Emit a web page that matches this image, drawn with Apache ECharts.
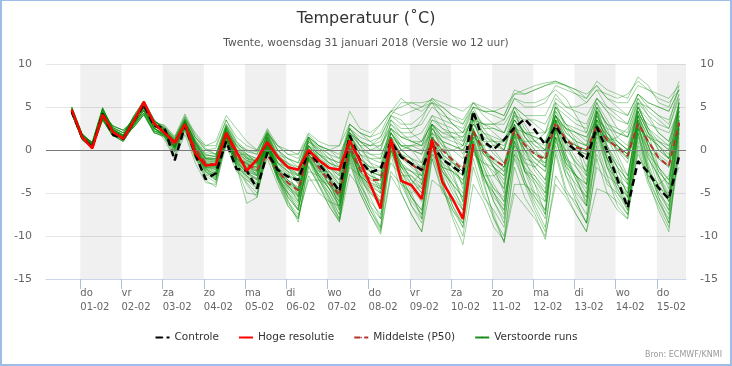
<!DOCTYPE html>
<html><head><meta charset="utf-8">
<script src="https://cdn.jsdelivr.net/npm/echarts@6/dist/echarts.min.js"></script>
<style>
html,body{margin:0;padding:0;background:#fff}
#c{position:absolute;left:0;top:0;width:732px;height:366px}
#b{position:absolute;left:0;top:0;width:732px;height:366px;box-sizing:border-box;border:2px solid #9dbde9;border-top-width:1px;pointer-events:none}
</style></head><body><div id="c"></div><div id="b"></div>
<script>
// hours since 01-02-2018 00:00 (local time), one value every 6 hours
const times = [-5,1,7,13,19,25,31,37,43,49,55,61,67,73,79,85,91,97,103,109,115,121,127,133,139,145,151,157,163,169,175,181,187,193,199,205,211,217,223,229,235,241,247,253,259,265,271,277,283,289,295,301,307,313,319,325,331,337,343,349];
const tickHours = [0,24,48,72,96,120,144,168,192,216,240,264,288,312,336];
const dayNames = ['do','vr','za','zo','ma','di','wo','do','vr','za','zo','ma','di','wo','do'];
const dayDates = ['01-02','02-02','03-02','04-02','05-02','06-02','07-02','08-02','09-02','10-02','11-02','12-02','13-02','14-02','15-02'];
const yTicks = [-15,-10,-5,0,5,10];

const controle = [4.5,1.5,0.3,4.2,1.8,1.3,3.3,5.3,2.8,2.6,-1.2,2.8,-0.5,-3.4,-2.7,1.0,-2.2,-2.4,-4.5,-0.3,-2.3,-3.1,-3.5,-0.1,-1.6,-3.1,-4.8,1.7,-1.2,-2.6,-2.2,1.0,-0.8,-1.6,-2.3,0.7,-1.1,-1.9,-2.8,4.5,1.0,0.1,1.2,2.6,3.6,2.3,0.6,2.8,0.9,-0.1,-1.1,2.7,-0.1,-3.4,-6.7,-1.3,-2.6,-4.4,-5.7,-0.7];
const hogeResolutie = [4.7,1.5,0.2,4.1,2.1,1.3,3.3,5.6,3.1,2.0,0.9,3.0,-0.4,-1.8,-1.7,2.0,-0.2,-2.4,-1.1,0.9,-0.8,-2.0,-2.3,0.0,-1.2,-2.1,-2.3,1.1,-1.3,-4.0,-6.8,1.3,-3.6,-4.1,-5.7,1.2,-3.7,-5.7,-8.0,0.7];
const middelste = [4.6,1.6,0.4,4.1,2.0,1.4,3.3,5.1,2.9,2.2,0.5,3.0,0.2,-1.5,-1.7,2.0,-0.9,-1.7,-2.3,-0.6,-2.4,-3.8,-4.7,-0.3,-2.0,-3.6,-5.3,0.4,-2.3,-3.5,-3.5,1.1,-0.7,-1.7,-2.4,1.3,0.0,-1.2,-2.3,2.2,-0.1,-1.1,-1.9,2.3,0.6,-0.5,-1.1,3.2,1.2,0.3,-0.1,2.8,1.2,0.3,-0.7,3.1,1.0,-0.9,-1.9,3.2];

const run01 = [4.2,1.3,0.3,3.8,1.9,1.2,3.0,4.6,2.5,1.8,0.2,2.8,-0.2,-2.5,-3.2,1.5,-1.5,-3.5,-4.5,0.2,-3.0,-5.5,-7.0,-1.0,-3.0,-5.5,-7.5,-0.5,-4.0,-6.5,-8.0,0.5,-3.5,-6.0,-7.5,1.0,-3.0,-6.5,-8.5,1.5,-3.0,-6.0,-8.0,2.0,-2.5,-5.5,-7.5,3.0,-1.5,-4.5,-6.5,3.5,-1.0,-4.0,-6.0,4.0,-0.5,-4.5,-7.0,3.5];
const run02 = [4.8,1.8,0.7,4.4,2.4,1.7,3.5,5.2,3.1,2.5,1.2,3.5,1.0,-0.5,-0.8,2.8,0.5,-0.5,-1.0,1.8,-0.8,-1.5,-2.0,1.2,0.0,-1.0,-2.5,2.0,0.5,0.5,1.0,3.5,2.5,2.5,3.0,5.0,4.0,3.5,3.0,5.5,4.5,4.0,3.5,6.0,5.0,5.0,5.5,7.5,7.0,6.5,6.0,7.5,6.0,5.0,4.0,6.5,5.5,5.0,4.5,7.0];
const run03 = [4.5,1.5,0.4,4.0,2.1,1.4,3.2,5.0,2.8,2.0,0.5,3.1,0.0,-1.8,-2.0,1.8,-1.0,-2.0,-2.5,0.8,-2.5,-4.0,-5.0,-0.5,-2.0,-3.5,-5.5,0.5,-2.0,-3.5,-4.0,1.0,-1.0,-2.0,-3.0,1.5,-0.5,-1.5,-2.5,2.5,0.0,-1.0,-2.0,2.5,0.5,-0.5,-1.5,3.0,1.0,0.0,-0.5,3.0,1.0,0.5,-1.0,3.5,1.0,-1.0,-2.0,3.0];
const run04 = [4.3,1.2,0.2,3.5,1.6,1.5,2.6,4.1,2.0,1.5,-0.5,2.5,-0.8,-3.0,-3.8,1.2,-2.0,-5.0,-5.2,0.0,-3.5,-6.5,-8.0,-2.0,-4.0,-6.0,-8.2,-1.5,-5.0,-7.5,-9.5,-2.5,-4.0,-5.0,-4.0,0.0,-1.0,-2.0,-3.0,1.5,0.5,0.5,1.0,3.5,2.0,1.5,1.0,4.5,3.0,2.0,1.0,5.0,3.0,1.0,0.0,4.5,2.0,0.5,-1.0,4.0];
const run05 = [5.0,1.9,0.8,4.7,2.6,2.0,3.7,5.4,3.3,2.8,1.4,4.0,1.5,0.0,0.2,3.5,1.0,0.0,-0.5,2.3,0.0,-1.0,-1.5,1.5,-0.5,-2.0,-3.0,1.0,-1.0,-2.0,-2.5,2.0,0.0,0.5,1.0,4.0,2.5,1.5,0.5,4.5,2.0,1.0,0.0,4.0,2.0,0.5,-0.5,4.0,1.5,0.5,0.0,4.5,2.0,1.0,0.0,5.0,2.5,1.5,0.5,5.5];
const run06 = [4.4,1.6,0.5,3.6,1.7,1.0,2.8,4.3,2.2,1.7,0.4,2.9,0.2,-1.5,-1.8,2.0,-0.8,-1.5,-2.0,1.2,-2.0,-3.5,-4.5,0.0,-1.5,-3.0,-5.0,1.0,-2.5,-4.5,-6.0,0.5,-3.0,-5.5,-7.5,-0.5,-4.0,-7.0,-9.0,-1.0,-5.0,-8.0,-10.0,-2.0,-5.5,-7.5,-10.4,-3.0,-5.0,-6.0,-8.5,-2.0,-3.5,-5.5,-7.5,1.0,-3.0,-6.0,-8.0,1.5];
const run07 = [4.8,1.8,0.7,4.4,2.4,1.7,3.5,5.2,3.1,2.2,1.0,3.2,0.8,-1.0,-1.2,2.5,0.0,-1.0,-1.5,1.5,-1.5,-2.5,-3.5,0.5,-1.0,-2.0,-3.5,1.5,-0.5,-1.0,-1.5,2.0,0.5,0.0,-0.5,2.5,1.0,0.5,0.0,3.0,1.5,1.0,0.5,3.5,2.0,1.5,1.0,4.0,2.5,2.0,1.5,4.5,3.0,2.5,1.5,5.0,3.5,2.0,1.0,4.5];
const run08 = [4.2,1.3,0.3,3.8,1.9,1.2,3.0,4.6,2.5,1.9,0.3,2.7,-0.3,-2.2,-2.8,1.6,-1.2,-2.8,-3.5,0.5,-3.0,-5.0,-6.5,-1.0,-3.0,-5.0,-7.0,-0.5,-3.5,-5.0,-6.0,0.0,-3.0,-5.5,-7.0,0.0,-4.0,-8.0,-11.0,-4.0,-6.0,-9.0,-10.5,-4.0,-4.0,-5.0,-6.0,1.0,-2.0,-3.0,-4.0,2.5,-1.0,-4.0,-5.5,3.0,-1.5,-5.0,-6.5,2.5];
const run09 = [4.6,1.7,0.9,4.9,2.3,1.6,3.9,5.7,3.5,2.4,0.8,3.3,0.6,-1.2,-1.4,2.3,-0.2,-1.2,-1.6,1.6,-1.0,-2.0,-3.0,0.8,-0.5,-1.5,-2.0,2.5,1.0,0.0,0.5,3.0,2.0,2.0,3.5,6.0,5.0,4.0,3.5,5.5,4.0,3.0,2.0,5.0,3.0,1.0,0.0,4.0,1.0,-2.0,-4.0,2.0,-1.0,-3.5,-5.5,2.5,-1.0,-3.0,-5.0,3.0];
const run10 = [4.5,1.5,0.4,4.0,2.1,1.4,3.2,5.0,2.8,2.0,0.6,3.0,0.3,-2.0,-2.5,1.7,-1.3,-2.5,-3.0,0.6,-2.8,-4.5,-5.5,-0.8,-2.5,-4.5,-6.5,0.0,-3.0,-4.5,-5.5,0.8,-2.0,-3.0,-4.5,1.2,-1.5,-3.5,-5.0,1.8,-1.0,-3.0,-4.5,2.5,-0.5,-2.0,-3.5,3.5,0.0,-1.5,-3.0,3.0,0.0,-2.0,-3.5,3.5,0.5,-2.5,-4.0,3.0];
const run11 = [5.0,1.9,0.8,4.7,2.6,2.0,3.7,5.4,3.3,2.6,1.1,3.6,1.2,-0.3,-0.5,3.0,0.8,-0.2,-0.5,2.2,0.0,-1.0,-1.5,1.8,0.5,0.0,0.5,3.0,2.0,1.5,2.0,4.5,4.0,4.5,5.0,6.0,5.5,5.0,4.5,5.5,5.0,4.5,4.0,7.0,6.5,7.0,7.5,8.0,7.5,7.0,6.0,8.0,7.0,6.5,6.0,8.5,7.5,5.5,5.0,8.0];
const run12 = [4.3,1.2,0.2,3.5,1.6,1.5,2.6,4.1,2.0,1.6,0.0,2.6,-0.5,-2.8,-3.5,1.0,-1.8,-3.8,-5.0,-0.5,-3.2,-6.0,-7.5,-3.5,-3.5,-4.0,-5.0,-0.5,-2.0,-2.5,-3.0,0.5,-1.5,-2.5,-3.5,1.0,-1.0,-2.0,-3.0,2.0,0.0,-1.5,-2.5,2.5,0.5,-1.0,-2.0,3.5,1.0,-1.0,-2.5,3.0,0.5,-1.5,-3.0,3.5,0.5,-2.5,-4.0,3.0];
const run13 = [4.7,1.4,0.6,4.2,2.8,2.3,3.4,4.9,3.0,2.1,0.7,3.2,0.5,-1.4,-1.5,2.1,-0.6,-1.6,-2.0,1.0,-2.2,-3.5,-4.5,0.0,-1.0,-2.5,-4.0,1.5,-1.0,-2.5,-3.0,1.5,-0.5,-1.0,-1.5,2.0,0.5,0.0,-1.0,3.0,1.0,-0.5,-1.5,3.0,1.0,-0.5,-1.0,4.0,1.5,0.0,-1.0,3.5,1.5,0.5,-0.5,4.5,2.0,0.0,-1.0,4.0];
const run14 = [4.4,1.6,0.5,3.6,1.7,1.0,2.8,4.3,2.2,1.9,0.4,2.9,0.1,-1.9,-2.2,1.9,-1.0,-2.2,-2.8,0.7,-2.6,-4.2,-5.2,-0.5,-2.2,-3.8,-5.8,0.2,-2.5,-3.8,-4.5,1.0,-1.5,-3.5,-5.0,0.5,-2.5,-4.0,-5.5,1.0,-2.0,-5.0,-7.0,0.5,-3.5,-6.5,-9.0,-0.5,-5.0,-7.5,-9.5,-4.5,-5.0,-7.0,-8.0,0.0,-4.0,-6.5,-9.0,-0.5];
const run15 = [4.6,1.7,0.9,4.9,2.3,1.6,3.9,5.7,3.5,2.3,0.9,3.4,0.9,-0.8,-1.0,2.6,0.2,-0.8,-1.2,1.9,-0.5,-1.8,-2.5,1.0,0.2,-0.5,-1.0,2.5,1.5,1.0,1.5,4.0,3.0,3.0,4.0,5.5,4.5,3.0,2.0,5.0,2.5,1.0,0.0,4.5,1.5,0.0,-1.0,4.5,2.0,1.0,0.5,5.0,3.0,2.0,1.5,5.5,4.0,3.0,2.5,6.0];
const run16 = [4.2,1.3,0.3,3.8,1.9,1.2,3.0,4.6,2.5,1.7,0.1,2.7,-0.4,-2.6,-3.3,1.3,-1.7,-3.2,-4.2,0.3,-3.2,-5.8,-8.4,-1.2,-4.0,-6.5,-8.4,-2.8,-4.5,-7.0,-9.0,0.0,-4.0,-6.5,-8.0,0.5,-3.5,-5.5,-7.0,1.0,-3.0,-5.0,-7.5,1.5,-2.5,-4.0,-6.0,2.5,-1.0,-3.0,-5.0,3.0,-0.5,-3.0,-5.0,3.5,0.0,-3.5,-5.5,3.0];
const run17 = [4.5,1.5,0.4,4.0,2.1,1.4,3.2,5.0,2.8,2.2,0.8,3.0,0.4,-1.6,-1.7,2.0,-0.9,-1.7,-2.1,0.9,-2.3,-3.8,-4.6,-0.3,-1.6,-3.3,-5.0,0.8,-2.0,-3.3,-3.6,1.3,-0.6,-1.5,-2.0,1.5,0.0,-1.0,-2.0,2.3,0.2,-1.2,-2.0,2.5,0.8,-0.3,-1.0,3.2,1.3,0.5,0.0,2.8,1.2,0.2,-0.8,3.2,1.0,-0.8,-1.8,3.2];
const run18 = [4.7,1.4,0.6,4.2,2.8,2.3,3.4,4.9,3.0,2.0,0.5,3.1,0.2,-1.7,-2.0,1.8,-1.0,-2.0,-2.5,1.0,-2.0,-3.0,-3.5,0.5,-0.5,-1.0,-1.5,2.0,0.5,-0.5,-1.0,2.5,1.0,0.0,-1.5,3.0,1.0,-2.0,-4.0,2.0,-1.5,-4.0,-6.0,1.0,-2.5,-3.0,-4.5,2.5,-1.0,-2.0,-3.5,4.5,1.5,0.0,-1.0,5.0,2.5,1.0,0.0,5.5];
const run19 = [4.4,1.6,0.5,3.6,1.7,1.0,2.8,4.3,2.2,1.8,0.2,2.8,-0.2,-2.3,-3.0,1.4,-1.5,-3.0,-4.0,0.2,-3.0,-5.5,-7.0,-1.0,-3.5,-5.5,-8.0,-0.8,-4.0,-6.0,-7.5,0.3,-3.5,-5.5,-7.0,0.8,-2.5,-4.0,-5.5,1.5,-2.0,-4.5,-6.0,1.8,-2.0,-5.0,-7.0,2.5,-2.0,-5.5,-7.5,2.5,-2.0,-5.0,-7.0,3.0,-2.0,-5.5,-7.5,2.5];
const run20 = [5.0,1.9,0.8,4.7,2.6,2.0,3.7,5.4,3.3,2.7,1.3,3.8,1.4,0.5,0.5,3.5,1.5,0.5,0.0,2.5,0.5,0.0,-0.5,2.0,1.0,0.5,0.5,4.5,2.5,2.0,3.0,4.5,5.0,5.5,5.0,5.5,5.0,4.0,3.0,5.0,4.5,4.5,4.0,6.5,6.5,7.0,7.5,7.8,7.5,7.0,6.5,7.5,6.0,5.5,5.5,7.5,7.0,6.5,6.0,7.5];
const run21 = [4.2,1.3,0.3,3.8,1.9,1.2,3.0,4.6,2.5,1.9,0.5,2.9,0.0,-2.0,-2.3,1.7,-1.2,-2.4,-3.0,0.6,-2.6,-4.5,-5.8,-0.8,-2.8,-4.5,-6.8,0.0,-3.2,-5.0,-6.5,1.0,-2.0,-2.5,-3.0,1.5,0.0,0.0,0.5,3.0,2.0,1.5,1.0,3.5,2.0,1.0,0.5,4.0,2.5,1.5,0.5,4.0,2.0,0.5,-0.5,4.0,1.5,0.5,-0.5,4.5];
const run22 = [4.5,1.5,0.4,4.0,2.1,1.4,3.2,5.0,2.8,2.1,0.6,3.0,0.2,-1.7,-1.9,1.9,-0.9,-1.9,-2.4,0.9,-2.4,-3.9,-4.8,-0.2,-1.7,-3.5,-5.2,0.6,-2.3,-3.8,-4.2,1.0,-1.5,-3.5,-4.5,1.0,-2.0,-4.5,-6.5,0.5,-3.0,-6.0,-8.5,-0.5,-4.0,-7.0,-9.5,0.0,-4.5,-6.5,-8.5,1.0,-3.0,-6.5,-8.0,2.0,-3.5,-7.0,-9.5,1.0];
const run23 = [4.8,1.8,0.7,4.4,2.4,1.7,3.5,5.2,3.1,2.3,0.9,3.3,0.7,-1.0,-1.2,2.4,-0.2,-1.2,-1.6,1.4,-1.4,-2.8,-3.6,0.4,-0.8,-2.0,-3.0,1.8,-0.5,-1.5,-2.0,2.5,0.5,0.5,0.0,3.0,1.5,1.5,1.0,4.0,2.5,2.5,2.0,5.0,4.0,4.0,4.0,6.5,5.0,4.5,4.0,6.0,4.5,3.5,3.0,6.5,5.0,4.0,3.5,6.5];
const run24 = [4.3,1.2,0.2,3.5,1.6,1.5,2.6,4.1,2.0,1.6,-0.2,2.5,-0.6,-3.5,-4.3,1.1,-1.9,-6.2,-5.5,0.0,-3.4,-6.2,-7.8,-1.8,-4.2,-6.5,-8.3,-1.2,-5.0,-7.5,-9.8,-3.0,-5.0,-7.5,-9.5,-3.5,-4.5,-7.0,-8.5,0.5,-3.0,-3.0,-2.0,1.5,1.0,1.0,2.0,5.0,4.0,3.0,2.5,6.0,4.5,2.5,2.0,6.0,4.0,2.0,1.0,5.5];
const run25 = [4.7,1.4,0.6,4.2,2.8,2.3,3.4,4.9,3.0,2.0,0.7,3.1,0.4,-1.5,-1.6,2.1,-0.7,-1.6,-2.0,1.1,-2.0,-3.5,-4.3,0.0,-1.2,-3.0,-4.5,1.0,-1.5,-2.5,-3.0,2.0,0.0,-1.0,-2.0,2.5,0.5,-1.5,-2.5,2.5,0.0,-2.0,-3.0,3.0,0.0,-1.5,-2.5,3.5,0.5,-1.5,-2.5,3.5,0.5,-2.0,-3.5,4.0,0.5,-2.0,-3.5,4.0];
const run26 = [4.6,1.7,0.9,4.9,2.3,1.6,3.9,5.7,3.5,2.4,1.0,3.4,0.8,-0.9,-1.0,2.6,0.0,-1.0,-1.3,1.7,-1.0,-2.2,-3.0,1.0,0.0,-1.5,-2.5,2.0,1.0,0.5,1.5,4.0,5.5,5.5,5.5,5.8,4.5,3.0,2.0,4.5,3.0,2.0,1.0,4.5,2.5,1.0,0.0,5.0,3.0,2.5,2.0,5.5,3.5,1.5,0.5,5.0,2.5,0.0,-1.0,5.0];
const run27 = [4.4,1.6,0.5,3.6,1.7,1.0,2.8,4.3,2.2,1.8,0.3,2.8,-0.1,-2.1,-2.6,1.6,-1.3,-2.6,-3.3,0.5,-2.9,-4.8,-6.0,-0.9,-2.8,-4.0,-5.5,0.3,-2.5,-4.0,-5.0,0.8,-2.5,-4.5,-6.0,0.5,-3.0,-6.5,-9.0,0.5,-4.0,-7.5,-10.8,-1.0,-4.0,-5.5,-7.0,1.5,-2.5,-4.0,-5.5,2.0,-2.0,-4.5,-6.5,2.5,-2.5,-5.0,-7.0,2.0];
const run28 = [4.8,1.8,0.7,4.4,2.4,1.7,3.5,5.2,3.1,2.2,0.8,3.2,0.6,-1.3,-1.4,2.2,-0.5,-1.4,-1.8,1.3,-1.6,-3.0,-3.8,0.2,-1.2,-2.8,-4.2,1.2,-1.0,-2.0,-2.0,2.0,0.5,0.0,-0.5,3.0,1.5,1.0,0.5,3.5,2.0,0.5,0.0,3.5,1.5,0.5,0.0,4.0,2.0,1.0,0.5,4.0,2.0,0.5,-0.5,4.5,2.0,1.0,0.0,5.0];
const run29 = [4.5,1.5,0.4,4.0,2.1,1.4,3.2,5.0,2.8,1.9,0.4,2.9,0.0,-1.9,-2.3,1.8,-1.1,-2.3,-2.9,0.7,-2.7,-4.3,-5.4,-0.6,-2.4,-4.0,-6.0,0.0,-2.8,-4.2,-5.0,0.8,-1.8,-2.5,-3.5,1.5,-1.0,-2.5,-4.0,2.0,-0.5,-2.0,-3.5,2.5,0.0,-2.5,-4.0,3.0,-0.5,-3.5,-5.5,2.5,-1.5,-4.5,-7.0,2.0,-2.0,-5.5,-8.5,0.5];
const run30 = [5.0,1.9,0.8,4.7,2.6,2.0,3.7,5.4,3.3,2.5,1.1,3.5,1.0,-0.6,-0.7,2.8,0.4,-0.6,-1.0,2.0,-0.6,-1.6,-2.2,1.3,0.3,-1.0,-1.5,2.5,1.0,0.0,0.0,3.0,1.5,1.0,0.5,3.5,2.5,2.0,1.5,4.0,3.0,3.0,3.5,6.0,5.5,5.5,6.0,7.0,6.0,4.0,2.0,5.5,2.5,-0.5,-3.0,3.0,-1.0,-3.0,-5.5,2.0];
const run31 = [4.7,1.4,0.6,4.2,2.8,2.3,3.4,4.9,3.0,2.0,0.4,3.0,0.1,-1.8,-2.1,1.8,-1.1,-2.1,-2.7,0.8,-2.6,-4.2,-5.3,-0.4,-2.2,-4.0,-6.2,0.2,-3.0,-4.8,-6.2,0.5,-2.5,-4.0,-5.5,1.0,-2.0,-2.5,-3.5,2.0,-0.5,-1.5,-2.5,3.0,0.5,-1.0,-2.0,3.5,1.0,0.0,-1.0,3.5,1.5,0.0,-1.5,4.0,1.5,0.5,-1.0,5.0];
const run32 = [4.8,1.8,0.7,4.4,2.4,1.7,3.5,5.2,3.1,2.3,0.9,3.2,0.7,-1.1,-1.3,2.3,-0.3,-1.3,-1.7,1.2,-1.5,-2.5,-3.0,0.5,-0.5,-1.5,-2.0,1.5,0.0,-0.5,-0.5,1.5,0.5,0.5,0.5,2.0,1.0,0.5,0.0,2.0,1.0,1.0,1.0,2.5,2.0,2.0,2.0,3.5,2.5,2.0,1.5,3.5,2.5,2.0,1.5,4.0,3.0,2.5,2.0,4.5];
const run33 = [4.3,1.2,0.2,3.5,1.6,1.5,2.6,4.1,2.0,1.7,0.2,2.7,-0.3,-2.4,-3.1,1.4,-1.6,-3.0,-3.8,0.3,-3.1,-5.3,-6.8,-1.2,-3.3,-5.8,-8.0,-1.0,-4.5,-7.0,-9.3,-0.5,-5.0,-7.5,-9.5,-1.0,-5.0,-6.0,-7.5,0.0,-3.5,-5.0,-6.5,1.0,-2.5,-3.5,-5.0,2.0,-1.5,-3.0,-4.5,2.5,-1.0,-2.5,-4.0,3.0,-0.5,-2.0,-3.5,3.5];
const run34 = [4.5,1.5,0.4,4.0,2.1,1.4,3.2,5.0,2.8,2.1,0.6,3.1,0.3,-1.6,-1.8,2.0,-0.8,-1.8,-2.3,0.9,-2.3,-3.7,-4.6,-0.2,-1.5,-3.2,-5.0,0.8,-2.0,-3.0,-3.5,1.5,-0.5,-1.5,-2.5,1.5,-0.5,-1.5,-2.5,2.0,-0.5,-1.0,-2.0,2.0,0.0,-1.0,-1.5,3.0,1.0,0.5,0.0,3.0,1.0,0.5,-0.5,3.0,1.0,-0.5,-1.5,3.5];
const run35 = [4.6,1.7,0.9,4.9,2.3,1.6,3.9,5.7,3.5,2.4,1.0,3.3,0.9,-1.0,-1.1,2.5,0.1,-0.9,-1.4,1.8,-0.8,-2.0,-2.8,1.0,-0.2,-1.8,-2.8,1.8,0.0,-1.0,-1.0,2.5,1.5,1.5,2.0,4.0,3.5,3.0,2.5,5.0,4.5,4.5,5.0,6.5,7.0,7.5,7.8,8.0,7.5,6.5,5.5,7.0,5.0,4.0,3.0,6.0,4.5,3.5,2.5,6.5];
const run36 = [4.2,1.3,0.3,3.8,1.9,1.2,3.0,4.6,2.5,1.8,0.3,2.8,-0.2,-2.2,-2.8,1.5,-1.4,-2.7,-3.4,0.4,-3.0,-5.0,-6.2,-1.0,-3.0,-4.5,-6.5,-0.3,-3.0,-4.0,-4.5,1.0,-2.0,-3.5,-5.0,1.0,-2.5,-5.0,-7.0,0.5,-3.5,-8.0,-10.7,-5.0,-6.5,-8.0,-10.0,-4.0,-5.5,-7.5,-9.5,-1.0,-5.0,-6.0,-7.5,0.5,-3.5,-6.0,-8.5,0.0];
const run37 = [4.6,1.5,0.5,4.3,2.2,1.5,3.1,4.8,2.7,1.5,-0.8,2.2,-1.0,-3.0,-2.5,0.8,-1.0,-1.5,-3.0,1.5,-1.0,-2.5,-5.5,-2.5,-3.0,-4.5,-6.0,1.0,-1.5,-2.0,-4.5,0.0,-2.0,-4.0,-2.5,2.5,1.0,-1.0,-4.5,1.0,-3.0,-5.5,-7.0,1.0,-1.5,-2.0,-0.5,5.0,3.0,1.0,-2.0,4.5,0.5,-3.0,-5.0,1.5,-2.5,-4.0,-3.0,2.5];
const run38 = [4.9,1.7,0.6,4.5,2.5,1.8,3.6,5.3,3.2,2.9,1.6,4.2,1.8,0.2,-0.5,2.2,0.5,-0.8,-2.5,0.5,-1.5,-2.0,-3.5,-0.5,-2.5,-2.5,-4.0,2.5,0.5,-1.5,-3.0,3.5,2.0,1.0,0.5,3.5,3.0,2.5,1.0,4.0,1.5,0.0,-1.5,2.0,0.0,-2.0,-3.5,1.5,-1.5,-3.0,-4.0,4.0,1.0,1.5,2.5,5.5,5.0,4.0,3.0,7.5];
const run39 = [4.3,1.4,0.4,3.9,2.0,1.3,2.9,4.7,2.6,1.2,-1.0,1.8,-1.5,-3.8,-4.0,0.5,-2.5,-3.5,-4.0,-1.0,-4.0,-6.5,-8.0,-3.0,-5.0,-6.0,-6.5,-2.0,-3.0,-4.0,-6.0,-1.5,-3.0,-3.0,-4.0,-0.5,-2.0,-2.5,-6.0,0.0,-2.5,-4.5,-5.5,-0.5,-2.0,-3.5,-5.5,0.5,-3.0,-5.0,-6.5,-0.5,-3.0,-4.0,-6.5,-0.5,-3.0,-4.5,-5.0,-2.0];
const run40 = [4.5,1.6,0.6,4.1,2.0,1.5,3.3,5.1,3.0,2.6,1.5,3.6,2.0,0.5,1.0,4.0,2.5,1.0,0.0,2.0,0.5,-0.5,-0.5,1.5,0.5,0.0,-1.0,3.0,2.0,1.0,0.0,4.0,3.5,2.0,1.0,3.0,2.0,1.5,1.5,3.5,3.0,3.0,3.0,5.0,4.0,3.0,2.0,6.0,5.0,5.0,5.5,7.0,6.5,6.0,6.5,8.0,7.0,6.0,5.5,7.0];
const run41 = [4.4,1.5,0.3,3.7,1.8,1.1,2.9,4.5,2.4,2.0,0.0,2.5,-1.0,-2.0,-3.5,2.0,-2.0,-4.0,-5.5,1.0,-2.0,-4.0,-6.0,1.5,-1.0,-3.0,-7.0,1.0,-3.5,-6.5,-9.0,1.5,-2.5,-5.0,-8.0,2.0,-2.0,-4.0,-7.0,3.5,0.0,-2.0,-5.0,3.0,-1.0,-4.0,-7.5,3.5,-0.5,-3.0,-6.5,4.5,0.0,-2.0,-5.5,4.5,0.5,-3.0,-6.0,5.5];
const run42 = [4.7,1.6,0.7,4.3,2.3,1.6,3.5,5.3,3.1,2.3,1.0,3.3,1.0,-1.0,-1.0,2.0,-0.5,-0.5,-1.5,0.5,-0.5,-1.0,-2.0,0.5,-1.0,-2.5,-3.5,0.0,-2.0,-3.0,-3.5,0.5,-1.0,-1.5,-3.0,0.5,-1.5,-2.5,-3.5,-0.5,-1.5,-2.0,-3.0,0.5,-1.0,-1.5,-2.5,1.5,0.0,0.0,-0.5,2.0,1.5,1.0,0.0,2.5,1.5,1.0,0.5,2.0];
const run43 = [4.6,1.8,0.8,4.6,2.4,1.7,3.7,5.5,3.4,2.5,1.2,3.8,1.5,0.0,-0.5,3.0,1.0,-0.5,-1.5,2.0,0.0,-1.5,-3.0,1.5,0.5,-0.5,-2.0,3.0,2.0,1.5,3.0,4.5,6.0,5.0,4.5,5.5,3.5,1.5,-0.5,3.5,0.5,-2.0,-4.0,2.0,-1.5,-3.0,-5.0,2.5,-1.0,-3.5,-6.0,1.5,-2.0,-3.5,-4.5,2.5,0.0,-1.0,-2.0,4.5];
const run44 = [4.2,1.4,0.4,3.9,2.0,1.3,3.0,4.7,2.6,1.6,-0.2,2.4,-0.5,-2.5,-3.5,1.0,-2.0,-3.0,-4.5,0.0,-3.5,-5.0,-7.0,-0.5,-3.5,-5.0,-7.5,0.0,-3.0,-5.5,-8.0,0.0,-3.5,-6.5,-8.5,-1.0,-4.5,-7.5,-10.0,-2.0,-5.5,-7.0,-9.0,0.0,-3.5,-6.0,-8.0,1.5,-3.0,-6.0,-8.5,0.5,-4.0,-5.0,-6.5,2.0,-2.5,-4.0,-6.0,3.0];
const run45 = [4.8,1.7,0.6,4.3,2.3,1.6,3.4,5.1,3.0,2.4,1.1,3.4,1.1,-0.6,-0.8,2.7,0.6,0.0,-0.2,2.0,0.5,-0.5,-1.0,1.5,0.5,0.0,-0.5,2.0,1.0,0.5,0.5,2.5,1.5,1.0,1.0,3.0,2.0,2.0,2.0,3.5,3.0,2.5,2.0,4.0,3.5,3.5,3.0,5.5,4.5,3.5,3.0,6.0,5.0,4.5,4.0,6.5,5.5,5.0,4.5,7.0];
const run46 = [4.5,1.5,0.5,4.0,2.2,1.4,3.2,4.9,2.8,2.1,0.4,3.0,0.0,-2.0,-2.0,1.5,-1.5,-2.5,-3.5,1.5,-1.0,-2.0,-4.0,0.5,-2.0,-4.0,-5.5,2.0,-0.5,-2.5,-5.0,2.0,0.0,-1.0,-4.0,3.0,-0.5,-3.0,-6.0,2.5,-1.5,-2.5,-4.5,4.5,1.5,0.0,-2.0,5.5,2.5,0.5,-3.0,5.0,1.5,-1.0,-4.0,5.5,2.0,-2.0,-4.5,6.0];

const members = [run01,run02,run03,run04,run05,run06,run07,run08,run09,run10,run11,run12,run13,run14,run15,run16,run17,run18,run19,run20,run21,run22,run23,run24,run25,run26,run27,run28,run29,run30,run31,run32,run33,run34,run35,run36,run37,run38,run39,run40,run41,run42,run43,run44,run45,run46];

const FONT = 'DejaVu Sans';
const pairs = arr => arr.map((v, i) => [times[i], v]);

// shaded bands: every other day starting with 01-02
const bands = [];
tickHours.forEach((h, i) => { if (i % 2 === 0) bands.push([{xAxis: h}, {xAxis: Math.min(h + 24, 353)}]); });

const GREEN = '#008a00', RED = '#ff0000', P50 = '#b5342c', BLACK = '#000000';
const series = [];
series.push({
  type: 'line', name: 'bands', data: [], silent: true, z: 1,
  markArea: { silent: true, itemStyle: { color: 'rgba(0,0,0,0.058)' }, data: bands },
  markLine: { silent: true, symbol: 'none', label: { show: false },
    lineStyle: { color: '#7a7a7a', width: 1, type: 'solid' }, data: [{ yAxis: 0 }] }
});
members.forEach(m => series.push({
  type: 'line', name: 'Verstoorde runs', data: pairs(m), symbol: 'none', silent: true, z: 2,
  itemStyle: { color: GREEN },
  lineStyle: { color: GREEN, width: 1, opacity: 0.38 }
}));
series.push({ type: 'line', name: 'Middelste (P50)', data: pairs(middelste), symbol: 'none', silent: true, z: 3,
  itemStyle: { color: P50 }, lineStyle: { color: P50, width: 2, type: [6, 4] } });
series.push({ type: 'line', name: 'Controle', data: pairs(controle), symbol: 'none', silent: true, z: 4,
  itemStyle: { color: BLACK }, lineStyle: { color: BLACK, width: 2.5, type: [7, 4] } });
series.push({ type: 'line', name: 'Hoge resolutie', data: pairs(hogeResolutie), symbol: 'none', silent: true, z: 5,
  itemStyle: { color: RED }, lineStyle: { color: RED, width: 2.5 } });

const yAxisBase = {
  type: 'value', min: yTicks[0], max: yTicks[yTicks.length - 1], interval: 5,
  axisLine: { show: false }, axisTick: { show: false },
  axisLabel: { color: '#666', fontSize: 11, fontFamily: FONT, margin: 14 }
};

const chart = echarts.init(document.getElementById('c'), null, { renderer: 'canvas' });
chart.setOption({
  animation: false,
  backgroundColor: '#fff',
  title: [
    { text: 'Temperatuur (˚C)', left: 'center', top: 6,
      textStyle: { fontFamily: FONT, fontSize: 16, fontWeight: 'normal', color: '#333' } },
    { text: 'Twente, woensdag 31 januari 2018 (Versie wo 12 uur)', left: 'center', top: 33,
      textStyle: { fontFamily: FONT, fontSize: 10.6, fontWeight: 'normal', color: '#555' } }
  ],
  grid: { left: 46, right: 46, top: 64, bottom: 87 },
  xAxis: {
    type: 'value', min: -20, max: 353,
    axisLine: { onZero: false, lineStyle: { color: '#ccd6eb' } },
    axisTick: { show: true, customValues: tickHours, length: 10, lineStyle: { color: '#b3c0da', width: 1 } },
    axisLabel: { customValues: tickHours, align: 'left', color: '#666', fontSize: 10, fontFamily: FONT,
      lineHeight: 14, margin: 7,
      formatter: v => { const i = tickHours.indexOf(v); return i < 0 ? '' : dayNames[i] + '\n' + dayDates[i]; } },
    splitLine: { show: false }
  },
  yAxis: [
    Object.assign({}, yAxisBase, { position: 'left', splitLine: { lineStyle: { color: '#e6e6e6' } } }),
    Object.assign({}, yAxisBase, { position: 'right', splitLine: { show: false } })
  ],
  legend: {
    left: 'center', top: 327, itemWidth: 14, itemHeight: 2, itemGap: 19, selectedMode: false,
    textStyle: { fontFamily: FONT, fontSize: 10.5, color: '#333' },
    data: [
      { name: 'Controle', lineStyle: { width: 2 } },
      { name: 'Hoge resolutie', lineStyle: { width: 2 } },
      { name: 'Middelste (P50)', lineStyle: { width: 2 } },
      { name: 'Verstoorde runs', lineStyle: { width: 2, opacity: 1, color: '#1a8f1a' } }
    ]
  },
  graphic: [{ type: 'text', right: 10, top: 351,
    style: { text: 'Bron: ECMWF/KNMI', fontFamily: FONT, fontSize: 8, fill: '#999' } }],
  series: series
});
</script></body></html>
